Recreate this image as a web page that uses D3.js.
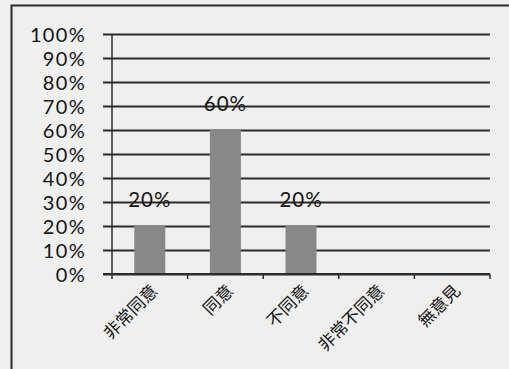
<!DOCTYPE html>
<html>
<head>
<meta charset="utf-8">
<script src="https://cdn.jsdelivr.net/npm/d3@7/dist/d3.min.js"></script>
<style>
html,body{margin:0;padding:0;background:#efefef;}
svg{display:block;}
</style>
</head>
<body>
<svg id="chart" width="509" height="369"></svg>
<script>
const categories = ["非常同意", "同意", "不同意", "非常不同意", "無意見"];
const values = [0.2, 0.6, 0.2, null, null];
const valueLabels = ["20%", "60%", "20%", "", ""];
const yTicks = [0, 0.1, 0.2, 0.3, 0.4, 0.5, 0.6, 0.7, 0.8, 0.9, 1.0];

(function () {
const svg = d3.select("#chart");
const W = 509, H = 369;
const pLeft = 112, pRight = 490, pTop = 34, pBottom = 274;
const ink = "#2b2b2b";
const latin = "Lato, 'Open Sans', sans-serif";
const cjk = "'Noto Sans CJK TC', sans-serif";

svg.append("rect").attr("width", W).attr("height", H).attr("fill", "#efefef");
// outer frame
svg.append("rect").attr("x", 11.5).attr("y", 5.5).attr("width", 520).attr("height", 400)
  .attr("fill", "none").attr("stroke", ink).attr("stroke-width", 2);

const y = d3.scaleLinear().domain([0, 1]).range([pBottom, pTop]);
const pad = 0.59;
const x = d3.scaleBand().domain(categories).range([pLeft, pRight]).paddingInner(pad).paddingOuter(pad / 2);

// gridlines + y axis
const yAxis = d3.axisLeft(y).tickValues(yTicks).tickFormat(d3.format(".0%"))
  .tickSize(-(pRight - pLeft)).tickPadding(26);
const gy = svg.append("g").attr("transform", `translate(${pLeft},0)`).call(yAxis);
gy.select(".domain").remove();
gy.selectAll(".tick line").attr("x1", -9).attr("stroke", ink).attr("stroke-width", 2);
gy.selectAll(".tick text").attr("fill", "#151515").attr("dy", "0.36em")
  .style("font-family", latin).style("font-size", "20px").style("letter-spacing", "1.3px");
// vertical axis line
svg.append("line").attr("x1", pLeft).attr("x2", pLeft).attr("y1", pTop).attr("y2", pBottom)
  .attr("stroke", ink).attr("stroke-width", 1.5);

// x axis ticks at category boundaries
const boundaries = d3.range(categories.length + 1).map(i => pLeft + i * x.step());
svg.append("g").selectAll("line").data(boundaries).join("line")
  .attr("x1", d => d).attr("x2", d => d).attr("y1", pBottom).attr("y2", pBottom + 5)
  .attr("stroke", ink).attr("stroke-width", 1.5);

const rows = categories.map((c, i) => ({c, v: values[i], l: valueLabels[i]})).filter(d => d.v != null);

// bars
svg.append("g").selectAll("rect").data(rows).join("rect")
  .attr("x", d => x(d.c)).attr("width", x.bandwidth())
  .attr("y", d => y(d.v)).attr("height", d => y(0) - y(d.v))
  .attr("fill", "#888888");

// value labels
svg.append("g").selectAll("text").data(rows).join("text")
  .attr("x", d => x(d.c) + x.bandwidth() / 2).attr("y", d => y(d.v) - 19)
  .attr("text-anchor", "middle").attr("fill", "#151515")
  .style("font-family", latin).style("font-size", "20.5px").style("letter-spacing", "1px")
  .text(d => d.l);

// x axis baseline
svg.append("line").attr("x1", pLeft - 9).attr("x2", pRight).attr("y1", pBottom).attr("y2", pBottom)
  .attr("stroke", ink).attr("stroke-width", 2);

// category labels
svg.append("g").selectAll("text").data(categories).join("text")
  .attr("transform", d => `translate(${x(d) + x.bandwidth() / 2 + 9},${pBottom + 18}) rotate(-45)`)
  .attr("text-anchor", "end").attr("fill", "#151515")
  .style("font-family", cjk).style("font-size", "17px")
  .text(d => d);
})();
</script>
</body>
</html>
